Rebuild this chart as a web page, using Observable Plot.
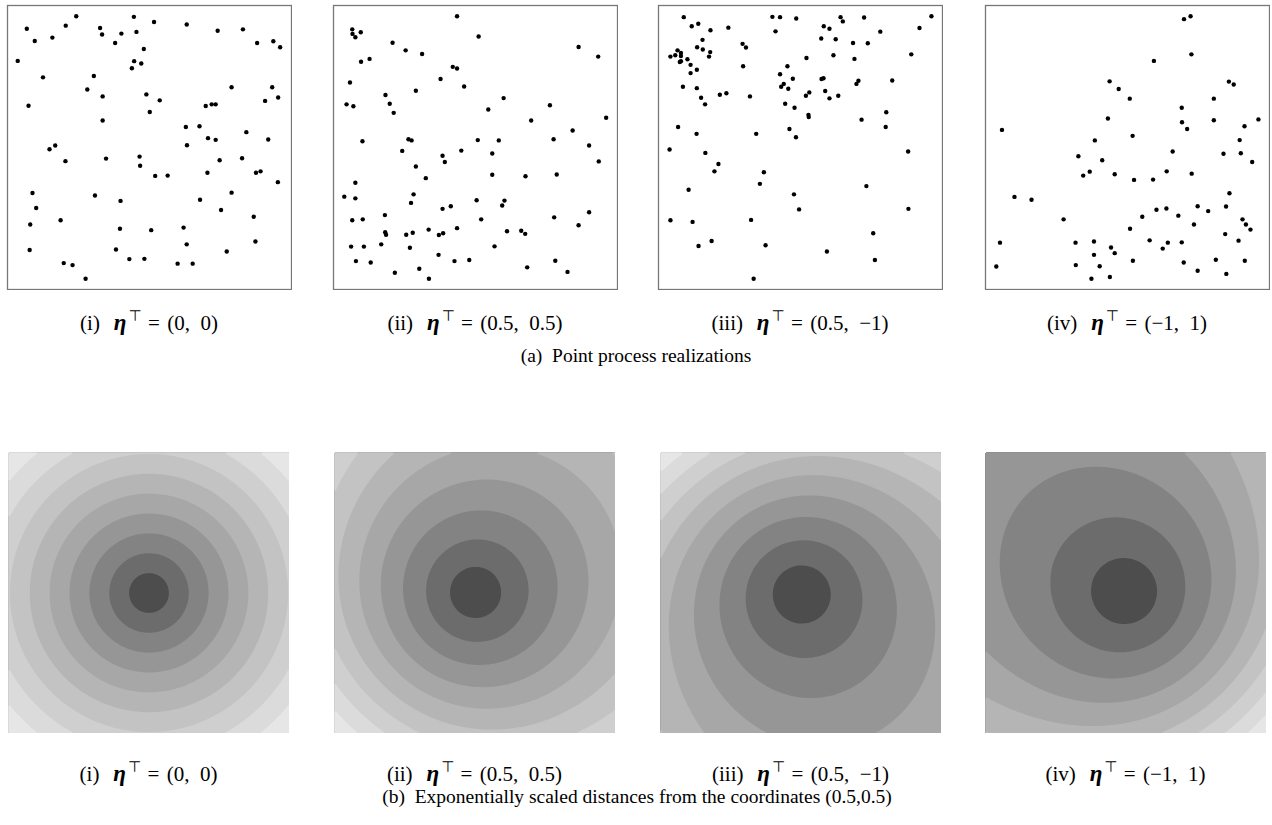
<!DOCTYPE html>
<html><head><meta charset="utf-8">
<script src="https://cdn.jsdelivr.net/npm/d3@7"></script>
<script src="https://cdn.jsdelivr.net/npm/@observablehq/plot@0.6"></script>
<style>
html,body{margin:0;padding:0;background:#fff;}
#fig{position:relative;width:1272px;height:825px;font-family:"Liberation Serif","Times New Roman",serif;color:#000;overflow:hidden;}
.panel{position:absolute;}
.lab{position:absolute;font-size:19.5px;white-space:pre;line-height:1;transform:translateX(-50%);}
.sub{font-size:21px;}
.eta{font-style:italic;font-weight:bold;font-size:1.1em;margin-left:0.6em;}
.sup{font-size:0.72em;position:relative;top:-0.6em;font-family:"DejaVu Sans",sans-serif;margin-left:2px;}
.eq{margin:0 0.35em 0 0.3em;}
.gap{margin-left:0.5em;}
</style></head><body><div id="fig"></div>
<script>
// ---------- data ----------
const panelTags = ["(i)", "(ii)", "(iii)", "(iv)"];
const etaValues = [[0, 0], [0.5, 0.5], [0.5, -1], [-1, 1]];
const centerCoord = [0.5, 0.5];
const captionA = "(a)  Point process realizations";
const captionB = "(b)  Exponentially scaled distances from the coordinates ";
const nLevels = 10;
const expScale = 0.5;

const x1 = [0.068,0.242,0.205,0.096,0.158,0.445,0.516,0.326,0.333,0.401,0.454,0.379,0.631,0.740,0.829,0.879,0.936,0.960,0.480,0.036,0.446,0.471,0.438,0.125,0.304,0.281,0.335,0.489,0.536,0.074,0.501,0.698,0.719,0.733,0.789,0.932,0.907,0.953,0.335,0.628,0.676,0.841,0.706,0.733,0.918,0.168,0.148,0.632,0.204,0.347,0.465,0.467,0.747,0.826,0.520,0.564,0.704,0.875,0.891,0.952,0.088,0.308,0.398,0.678,0.789,0.101,0.752,0.080,0.187,0.396,0.506,0.620,0.867,0.078,0.382,0.631,0.873,0.772,0.198,0.229,0.429,0.482,0.599,0.652,0.275];
const y1 = [0.918,0.962,0.929,0.875,0.887,0.960,0.942,0.921,0.898,0.901,0.907,0.868,0.933,0.911,0.916,0.868,0.874,0.853,0.847,0.805,0.804,0.796,0.779,0.747,0.752,0.704,0.680,0.687,0.666,0.647,0.625,0.646,0.652,0.652,0.712,0.712,0.664,0.676,0.595,0.572,0.575,0.554,0.533,0.527,0.528,0.507,0.494,0.508,0.452,0.461,0.468,0.436,0.455,0.462,0.400,0.401,0.411,0.411,0.416,0.378,0.340,0.331,0.312,0.316,0.341,0.287,0.280,0.229,0.244,0.214,0.209,0.218,0.256,0.139,0.141,0.159,0.169,0.134,0.093,0.086,0.107,0.108,0.091,0.091,0.038];

const x2 = [0.435,0.066,0.067,0.077,0.096,0.511,0.208,0.254,0.312,0.863,0.932,0.097,0.127,0.420,0.435,0.377,0.058,0.290,0.460,0.183,0.599,0.046,0.070,0.198,0.212,0.545,0.762,0.960,0.696,0.842,0.102,0.264,0.275,0.508,0.582,0.775,0.900,0.242,0.450,0.384,0.392,0.559,0.934,0.290,0.325,0.559,0.676,0.786,0.077,0.038,0.077,0.282,0.273,0.504,0.602,0.594,0.384,0.413,0.181,0.066,0.103,0.520,0.777,0.900,0.863,0.182,0.185,0.256,0.279,0.335,0.371,0.386,0.435,0.611,0.661,0.675,0.168,0.062,0.107,0.269,0.567,0.370,0.079,0.131,0.426,0.478,0.781,0.216,0.302,0.336,0.682,0.824];
const y2 = [0.962,0.916,0.900,0.888,0.906,0.891,0.869,0.842,0.829,0.854,0.820,0.802,0.812,0.784,0.778,0.741,0.729,0.700,0.715,0.685,0.674,0.652,0.645,0.654,0.622,0.634,0.649,0.605,0.595,0.560,0.522,0.529,0.525,0.526,0.525,0.529,0.507,0.488,0.489,0.471,0.449,0.479,0.451,0.433,0.392,0.404,0.399,0.405,0.376,0.327,0.321,0.335,0.305,0.314,0.313,0.296,0.284,0.293,0.262,0.244,0.247,0.247,0.254,0.272,0.226,0.202,0.193,0.193,0.200,0.211,0.192,0.198,0.216,0.205,0.207,0.196,0.159,0.151,0.151,0.147,0.152,0.122,0.100,0.095,0.100,0.104,0.101,0.059,0.073,0.038,0.078,0.062];

const x3 = [0.089,0.117,0.140,0.183,0.246,0.401,0.428,0.485,0.412,0.641,0.649,0.724,0.961,0.582,0.602,0.919,0.781,0.155,0.136,0.156,0.182,0.178,0.296,0.308,0.573,0.624,0.685,0.737,0.067,0.079,0.059,0.042,0.079,0.075,0.079,0.102,0.113,0.135,0.113,0.521,0.616,0.690,0.890,0.298,0.454,0.428,0.473,0.574,0.581,0.704,0.697,0.823,0.086,0.135,0.432,0.441,0.457,0.150,0.216,0.239,0.322,0.519,0.531,0.587,0.602,0.633,0.164,0.446,0.479,0.528,0.529,0.715,0.802,0.800,0.069,0.134,0.344,0.461,0.484,0.039,0.165,0.879,0.211,0.197,0.371,0.357,0.732,0.106,0.477,0.495,0.880,0.042,0.120,0.326,0.756,0.187,0.141,0.377,0.593,0.762,0.335];
const y3 = [0.959,0.927,0.936,0.913,0.922,0.960,0.959,0.954,0.909,0.959,0.944,0.958,0.962,0.927,0.918,0.921,0.908,0.879,0.853,0.845,0.836,0.820,0.865,0.852,0.884,0.881,0.868,0.867,0.842,0.833,0.825,0.820,0.822,0.801,0.804,0.811,0.791,0.774,0.762,0.815,0.825,0.812,0.828,0.786,0.786,0.758,0.742,0.741,0.744,0.735,0.724,0.736,0.714,0.709,0.714,0.724,0.707,0.675,0.686,0.691,0.680,0.682,0.694,0.699,0.673,0.682,0.652,0.654,0.640,0.615,0.607,0.598,0.624,0.572,0.572,0.548,0.548,0.565,0.536,0.493,0.481,0.486,0.442,0.416,0.413,0.372,0.364,0.351,0.335,0.282,0.284,0.244,0.238,0.245,0.198,0.171,0.153,0.156,0.134,0.104,0.038];

const x4 = [0.699,0.722,0.725,0.593,0.437,0.469,0.508,0.857,0.874,0.804,0.691,0.431,0.692,0.710,0.804,0.961,0.912,0.058,0.518,0.385,0.895,0.659,0.838,0.899,0.327,0.411,0.939,0.367,0.344,0.455,0.523,0.590,0.638,0.726,0.859,0.102,0.162,0.602,0.637,0.747,0.784,0.847,0.552,0.679,0.275,0.905,0.917,0.933,0.734,0.509,0.844,0.051,0.317,0.382,0.578,0.642,0.691,0.891,0.442,0.455,0.624,0.382,0.038,0.318,0.402,0.519,0.698,0.811,0.913,0.373,0.438,0.747,0.848];
const y4 = [0.952,0.962,0.828,0.805,0.733,0.706,0.672,0.732,0.722,0.672,0.640,0.602,0.589,0.565,0.596,0.599,0.575,0.562,0.541,0.525,0.526,0.486,0.478,0.480,0.469,0.455,0.449,0.415,0.401,0.406,0.386,0.387,0.416,0.408,0.339,0.326,0.316,0.281,0.285,0.293,0.276,0.292,0.256,0.260,0.247,0.247,0.229,0.211,0.229,0.214,0.195,0.165,0.165,0.169,0.173,0.165,0.166,0.172,0.148,0.128,0.144,0.122,0.081,0.086,0.082,0.101,0.095,0.105,0.101,0.038,0.044,0.066,0.055];

// ---------- styling / layout ----------
const grays = ["#4D4D4D","#6C6C6C","#838383","#969696","#A7A7A7","#B5B5B5","#C3C3C3","#CFCFCF","#DBDBDB","#E6E6E6"];
const topLefts = [6, 332, 657, 984];
const botLefts = [8, 334, 660, 985];
const fig = document.getElementById("fig");

const pointSets = [[x1,y1],[x2,y2],[x3,y3],[x4,y4]];

function place(node, left, top) {
  const d = document.createElement("div");
  d.className = "panel";
  d.style.left = left + "px";
  d.style.top = top + "px";
  d.appendChild(node);
  fig.appendChild(d);
}

pointSets.forEach(([xs, ys], i) => {
  const data = xs.map((x, j) => ({x, y: ys[j]}));
  const p = Plot.plot({
    width: 286, height: 286, margin: 1,
    style: {background: "transparent"},
    x: {domain: [0, 1], axis: null},
    y: {domain: [0, 1], axis: null},
    marks: [
      Plot.frame({stroke: "#777", strokeWidth: 1.3}),
      Plot.dot(data, {x: "x", y: "y", r: 2.2, fill: "black", stroke: "none"})
    ]
  });
  place(p, topLefts[i], 4);
});

const thresholds = d3.range(nLevels).map(i => i / nLevels);
function field(x, y, eta) {
  const dx = x - centerCoord[0], dy = y - centerCoord[1];
  return Math.hypot(dx, dy) * Math.exp(-expScale * (eta[0] * dx + eta[1] * dy));
}

etaValues.forEach((eta, i) => {
  const corners = [[0,0],[0,1],[1,0],[1,1]];
  const fmax = d3.max(corners, ([a, b]) => field(a, b, eta));
  const p = Plot.plot({
    width: 281, height: 281, margin: 0,
    style: {background: "transparent"},
    x: {domain: [0, 1], axis: null},
    y: {domain: [0, 1], axis: null},
    color: {type: "threshold", domain: thresholds.slice(1), range: grays},
    marks: [
      Plot.contour({
        x1: 0, y1: 0, x2: 1, y2: 1,
        fill: (x, y) => field(x, y, eta) / fmax,
        thresholds
      })
    ]
  });
  place(p, botLefts[i], 452);
});

// ---------- captions ----------
const fmt = v => (v < 0 ? "\u2212" + Math.abs(v) : String(v));
function labelHTML(i) {
  const e = etaValues[i];
  return `${panelTags[i]}<span class="eta">\u03B7</span><span class="sup">\u22A4</span><span class="eq">=</span>(${fmt(e[0])},<span class="gap">${fmt(e[1])})</span>`;
}
function addLabel(html, cx, top, cls) {
  const d = document.createElement("div");
  d.className = "lab" + (cls ? " " + cls : "");
  d.style.left = cx + "px";
  d.style.top = top + "px";
  d.innerHTML = html;
  fig.appendChild(d);
}
const topCenters = topLefts.map(l => l + 143);
const botCenters = botLefts.map(l => l + 140.5);
etaValues.forEach((e, i) => {
  addLabel(labelHTML(i), topCenters[i], 311, "sub");
  addLabel(labelHTML(i), botCenters[i], 762, "sub");
});
addLabel(captionA, 636, 346);
addLabel(captionB + `(${centerCoord[0]},${centerCoord[1]})`, 637, 787);
</script></body></html>
